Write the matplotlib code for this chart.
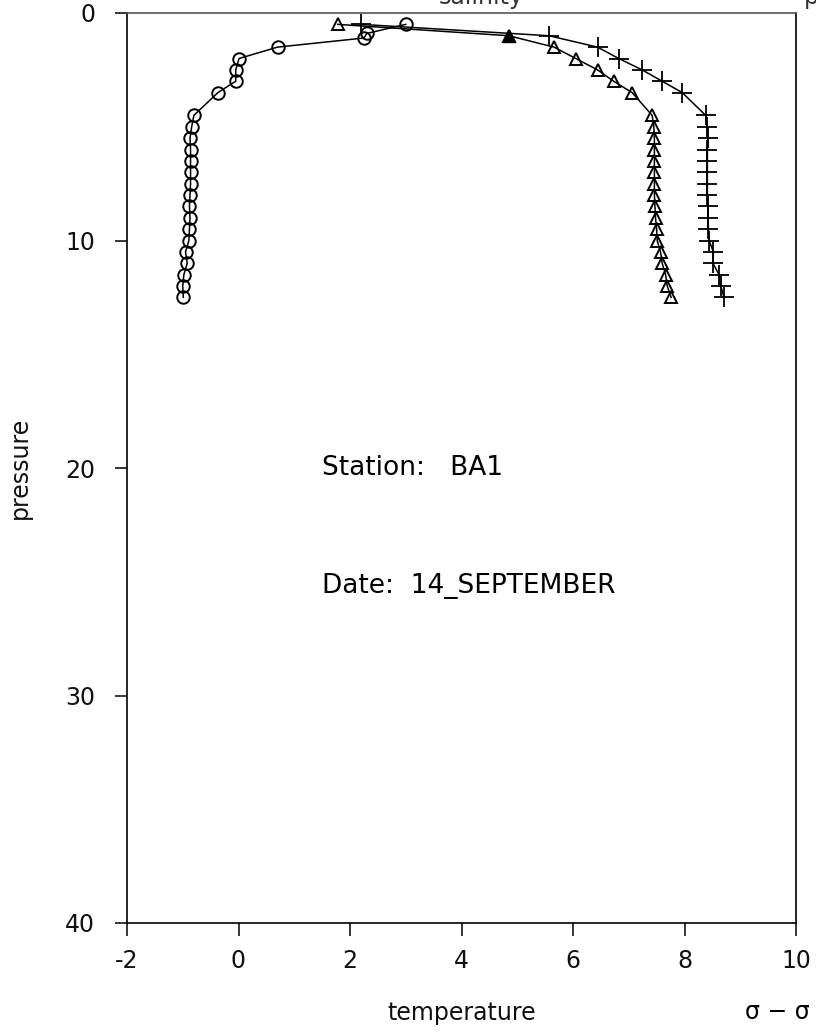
import numpy as np
import matplotlib.pyplot as plt

# circles
circ_p = [0.5, 0.9, 1.1, 1.5, 2.0, 2.5, 3.0, 3.5, 4.5, 5.0, 5.5, 6.0, 6.5, 7.0, 7.5,
          8.0, 8.5, 9.0, 9.5, 10.0, 10.5, 11.0, 11.5, 12.0, 12.5]
circ_x = [3.0, 2.3, 2.25, 0.7, 0.01, -0.05, -0.05, -0.37, -0.80, -0.84, -0.87, -0.86,
          -0.86, -0.86, -0.86, -0.87, -0.88, -0.87, -0.88, -0.89, -0.95, -0.92,
          -0.98, -1.00, -0.99]

# triangles
tri_p = [0.5, 1.0, 1.5, 2.0, 2.5, 3.0, 3.5, 4.5, 5.0, 5.5, 6.0, 6.5, 7.0, 7.5,
         8.0, 8.5, 9.0, 9.5, 10.0, 10.5, 11.0, 11.5, 12.0, 12.5]
tri_x = [1.78, 4.85, 5.66, 6.05, 6.44, 6.73, 7.06, 7.42, 7.45, 7.46, 7.46, 7.46,
         7.46, 7.46, 7.46, 7.47, 7.48, 7.50, 7.51, 7.57, 7.60, 7.66, 7.69, 7.76]

# plusses
plus_p = tri_p
plus_x = [2.2, 5.57, 6.44, 6.82, 7.24, 7.60, 7.96, 8.38, 8.41, 8.42, 8.41, 8.41,
          8.41, 8.41, 8.41, 8.42, 8.42, 8.43, 8.44, 8.52, 8.51, 8.62, 8.65, 8.71]

xticks = [-2, 0, 2, 4, 6, 8, 10]
yticks = [0, 10, 20, 30, 40]

plt.rcParams['font.family'] = ['DejaVu Sans']
plt.rcParams['font.size'] = 17
plt.rcParams['axes.unicode_minus'] = False

fig = plt.figure(figsize=(8.16, 10.36), dpi=100)
ax = fig.add_axes([127/816, 1 - 923/1036, (796 - 127)/816, (923 - 13)/1036])

ax.plot(circ_x, circ_p, '-', color='black', lw=1.1, marker='o', ms=9,
        mfc='none', mec='black', mew=1.4)
ax.plot(tri_x, tri_p, '-', color='black', lw=1.1, marker='^', ms=8,
        mfc='none', mec='black', mew=1.4)
ax.plot(plus_x, plus_p, '-', color='black', lw=1.1, marker='+', ms=15,
        mec='black', mew=1.3)
# filled triangle at second level
ax.plot(tri_x[1], tri_p[1], marker='^', ms=8, color='black')

ax.set_xlim(-2, 10)
ax.set_ylim(40, 0)
ax.set_xticks(xticks)
ax.set_yticks(yticks)
ax.tick_params(direction='out', length=9, width=1.1, colors='black',
               labelcolor='#111111')
ax.tick_params(axis='x', pad=10)
ax.tick_params(axis='y', pad=14)

for s in ax.spines.values():
    s.set_linewidth(1.2)
ax.spines['top'].set_color('#555555')

ax.set_xlabel('temperature', labelpad=20, color='#111111')
ax.set_ylabel('pressure', labelpad=24, color='#111111')

ax.text(1.5, 20, 'Station:   BA1', va='center', ha='left', fontsize=19)
ax.text(1.5, 25.2, 'Date:  14_SEPTEMBER', va='center', ha='left', fontsize=19)

# fragments of neighbouring labels cut by the page edge
fig.text(481/816, 1 - 4/1036, 'salinity', ha='center', va='baseline', color='#333333')
fig.text(0.985, 1 - 4/1036, 'p', ha='left', va='baseline', color='#333333')
fig.text(745/816, 1 - 1012/1036, 'σ − σ', ha='left', va='center')

fig.savefig('out.png', dpi=100)
